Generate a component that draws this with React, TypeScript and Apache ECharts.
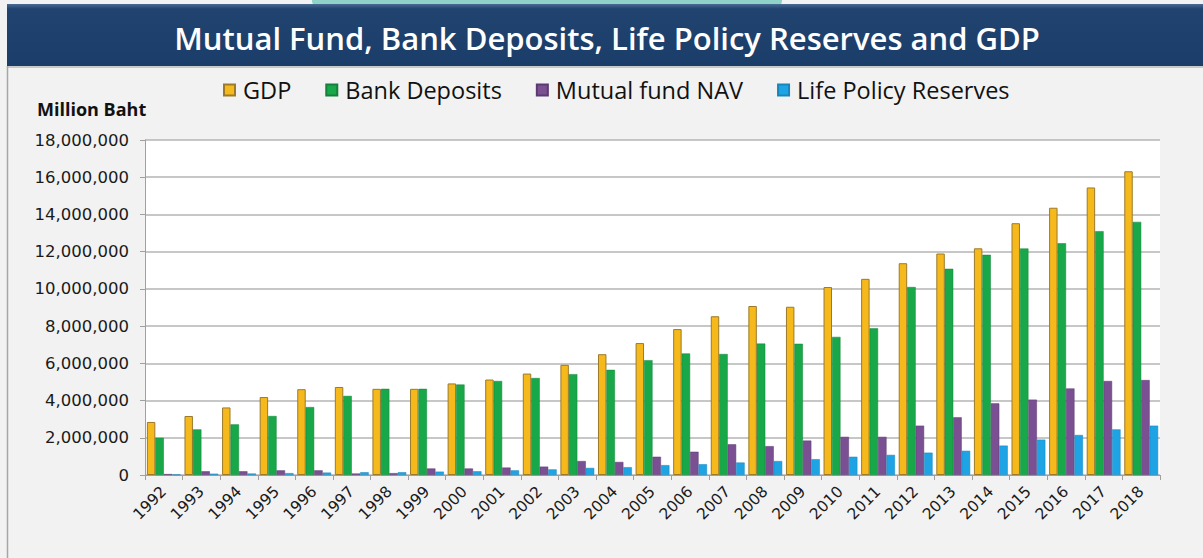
import React, { useEffect, useRef } from "react";
import * as echarts from "echarts";

const years = [
  "1992", "1993", "1994", "1995", "1996", "1997", "1998", "1999", "2000", "2001",
  "2002", "2003", "2004", "2005", "2006", "2007", "2008", "2009", "2010", "2011",
  "2012", "2013", "2014", "2015", "2016", "2017", "2018",
];

const gdp = [
  2850000, 3170000, 3630000, 4190000, 4610000, 4730000, 4630000, 4630000, 4920000, 5130000,
  5450000, 5920000, 6490000, 7090000, 7840000, 8530000, 9080000, 9040000, 10100000, 10540000,
  11380000, 11900000, 12180000, 13530000, 14360000, 15450000, 16320000,
];

const bankDeposits = [
  2000000, 2450000, 2720000, 3170000, 3650000, 4250000, 4630000, 4630000, 4860000, 5050000,
  5210000, 5420000, 5650000, 6170000, 6530000, 6500000, 7060000, 7050000, 7420000, 7880000,
  10100000, 11080000, 11830000, 12170000, 12450000, 13100000, 13600000,
];

const mutualFundNav = [
  50000, 200000, 200000, 250000, 250000, 80000, 100000, 350000, 350000, 400000,
  450000, 750000, 700000, 980000, 1250000, 1650000, 1550000, 1850000, 2050000, 2050000,
  2650000, 3100000, 3850000, 4050000, 4650000, 5050000, 5100000,
];

const lifePolicyReserves = [
  30000, 70000, 80000, 100000, 130000, 150000, 150000, 180000, 200000, 250000,
  300000, 380000, 420000, 530000, 580000, 670000, 750000, 850000, 980000, 1080000,
  1200000, 1300000, 1580000, 1900000, 2150000, 2450000, 2650000,
];

const seriesNames = ["GDP", "Bank Deposits", "Mutual fund NAV", "Life Policy Reserves"];
const seriesColors = ["#f6b91b", "#18a84a", "#7a5092", "#1ea4e4"];
const seriesBorders = ["#9c7a2a", "#14803a", "#5b3a70", "#1a85bb"];

export default function App() {
  const ref = useRef<HTMLDivElement>(null);

  useEffect(() => {
    if (!ref.current) return;
    const chart = echarts.init(ref.current, null, { renderer: "svg" });
    const dataSets = [gdp, bankDeposits, mutualFundNav, lifePolicyReserves];
    chart.setOption({
      animation: false,
      backgroundColor: "#f2f2f2",
      graphic: [
        {
          type: "rect",
          shape: { x: 312, y: -6, width: 470, height: 11, r: 4 },
          style: { fill: "#8fd3c8" },
          silent: true,
        },
        {
          type: "rect",
          shape: { x: 7, y: 4, width: 1200, height: 62 },
          style: {
            fill: new echarts.graphic.LinearGradient(0, 0, 0, 1, [
              { offset: 0, color: "#4a6a94" },
              { offset: 0.08, color: "#21436f" },
              { offset: 1, color: "#1b3d69" },
            ]),
          },
          silent: true,
        },
        {
          type: "rect",
          shape: { x: 7, y: 66, width: 1200, height: 2 },
          style: { fill: "#c9c9c9" },
          silent: true,
        },
        {
          type: "line",
          shape: { x1: 7.5, y1: 66, x2: 7.5, y2: 558 },
          style: { stroke: "#a6a6a6", lineWidth: 1.5 },
          silent: true,
        },
        {
          type: "rect",
          shape: { x: 145, y: 140, width: 1015, height: 335 },
          style: { fill: "#ffffff" },
          silent: true,
          z: -1,
        },
        {
          type: "text",
          x: 607,
          y: 38,
          style: {
            text: "Mutual Fund, Bank Deposits, Life Policy Reserves and GDP",
            fill: "#ffffff",
            font: "600 31px 'Open Sans'",
            align: "center",
            verticalAlign: "middle",
          },
          silent: true,
        },
        {
          type: "text",
          x: 37,
          y: 109,
          style: {
            text: "Million Baht",
            fill: "#111111",
            font: "bold 18px 'Open Sans'",
            align: "left",
            verticalAlign: "middle",
          },
          silent: true,
        },
      ],
      legend: {
        data: seriesNames,
        left: 218,
        top: 73,
        itemWidth: 11,
        itemHeight: 11,
        itemGap: 34,
        icon: "rect",
        textStyle: {
          fontFamily: "Open Sans",
          fontSize: 23.5,
          color: "#111111",
          padding: [0, 0, 0, 3],
        },
      },
      grid: {
        left: 145,
        right: 43,
        top: 140,
        bottom: 83,
        containLabel: false,
      },
      xAxis: {
        type: "category",
        data: years,
        axisLine: { lineStyle: { color: "#a0a0a0", width: 1 } },
        axisTick: { show: true, alignWithLabel: false, length: 5, lineStyle: { color: "#a0a0a0" } },
        axisLabel: {
          rotate: 45,
          interval: 0,
          fontFamily: "DejaVu Sans",
          fontSize: 15.5,
          color: "#1a1a1a",
          margin: 14,
        },
      },
      yAxis: {
        type: "value",
        min: 0,
        max: 18000000,
        interval: 2000000,
        axisLine: { show: true, lineStyle: { color: "#a0a0a0", width: 1 } },
        axisTick: { show: true, length: 5, lineStyle: { color: "#a0a0a0" } },
        splitLine: { lineStyle: { color: "#b4b4b4", width: 1.5 } },
        axisLabel: {
          fontFamily: "DejaVu Sans",
          fontSize: 16.5,
          color: "#1a1a1a",
          margin: 16,
          formatter: (v: number) => v.toLocaleString("en-US"),
        },
      },
      series: seriesNames.map((name, i) => ({
        name,
        type: "bar",
        data: dataSets[i],
        barGap: "0%",
        barCategoryGap: "10%",
        itemStyle: {
          color: seriesColors[i],
          borderColor: seriesBorders[i],
          borderWidth: i === 0 ? 1 : 0.5,
        },
      })),
    });
    return () => chart.dispose();
  }, []);

  return (
    <div
      ref={ref}
      style={{ position: "absolute", left: 0, top: 0, width: 1203, height: 558 }}
    />
  );
}
